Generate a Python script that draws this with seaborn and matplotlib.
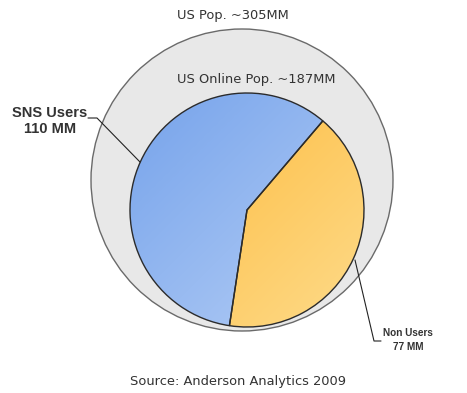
import numpy as np
import seaborn as sns
import matplotlib.pyplot as plt
from matplotlib.colors import LinearSegmentedColormap
from matplotlib.patches import Circle

# data
segments = ["SNS Users", "Non Users"]
users_mm = [110, 77]
total_pop = 305
online_pop = 187
source = "Source: Anderson Analytics 2009"

sns.set_theme(style="white")
plt.rcParams['font.family'] = ['DejaVu Sans']

W, H = 467, 393
fig = plt.figure(figsize=(W / 100, H / 100), dpi=100)
ax = fig.add_axes([0, 0, 1, 1])

# outer circle = whole US population
outer = Circle((242, 213), 151, facecolor='#e8e8e8', edgecolor='#6a6a6a', lw=1.0, zorder=1)
ax.add_patch(outer)

# inner pie = online population
pie_c = (247, 183)
pie_r = 117
wedges, _ = ax.pie(users_mm, center=pie_c, radius=pie_r, startangle=49.6,
                   counterclock=True, frame=True,
                   wedgeprops=dict(edgecolor='#2b2b2b', linewidth=1.0))
ax.set_xlim(0, W)
ax.set_ylim(0, H)
ax.set_aspect('equal')
ax.axis('off')

grads = [("#76a3eb", "#b6cff6"), ("#fdb735", "#fedb8a")]
gx, gy = np.meshgrid(np.linspace(0, 1, 200), np.linspace(0, 1, 200))
g = (gx + gy) / 2
for w, (c0, c1) in zip(wedges, grads):
    w.set_facecolor('none')
    w.set_zorder(3)
    cmap = LinearSegmentedColormap.from_list("g", [c0, c1])
    im = ax.imshow(g, cmap=cmap, origin='upper', zorder=2,
                   extent=[pie_c[0] - pie_r, pie_c[0] + pie_r,
                           pie_c[1] - pie_r, pie_c[1] + pie_r])
    im.set_clip_path(w)
ax.set_xlim(0, W)
ax.set_ylim(0, H)

txt = '#333333'
ax.text(233, H - 16, f"US Pop. ~{total_pop}MM", ha='center', va='center',
        fontsize=9.4, color=txt)
ax.text(256, H - 80, f"US Online Pop. ~{online_pop}MM", ha='center', va='center',
        fontsize=9.4, color=txt)

# leader lines
ax.plot([88, 97, 140], [H - 118, H - 118, H - 162], color='#222222', lw=0.8, zorder=4)
ax.plot([355, 374, 381], [H - 260, H - 341, H - 341], color='#222222', lw=0.8, zorder=4)

ax.text(50, H - 121, f"{segments[0]}\n{users_mm[0]} MM", ha='center', va='center',
        fontsize=10.5, fontweight='bold', color=txt, family='Liberation Sans',
        linespacing=1.2)
ax.text(408, H - 340, f"{segments[1]}\n{users_mm[1]} MM", ha='center', va='center',
        fontsize=7.2, fontweight='bold', color=txt, family='Liberation Sans',
        linespacing=1.4)

ax.text(238, H - 381, source, ha='center', va='center', fontsize=9.4, color=txt)

fig.savefig("out.png", dpi=100)
